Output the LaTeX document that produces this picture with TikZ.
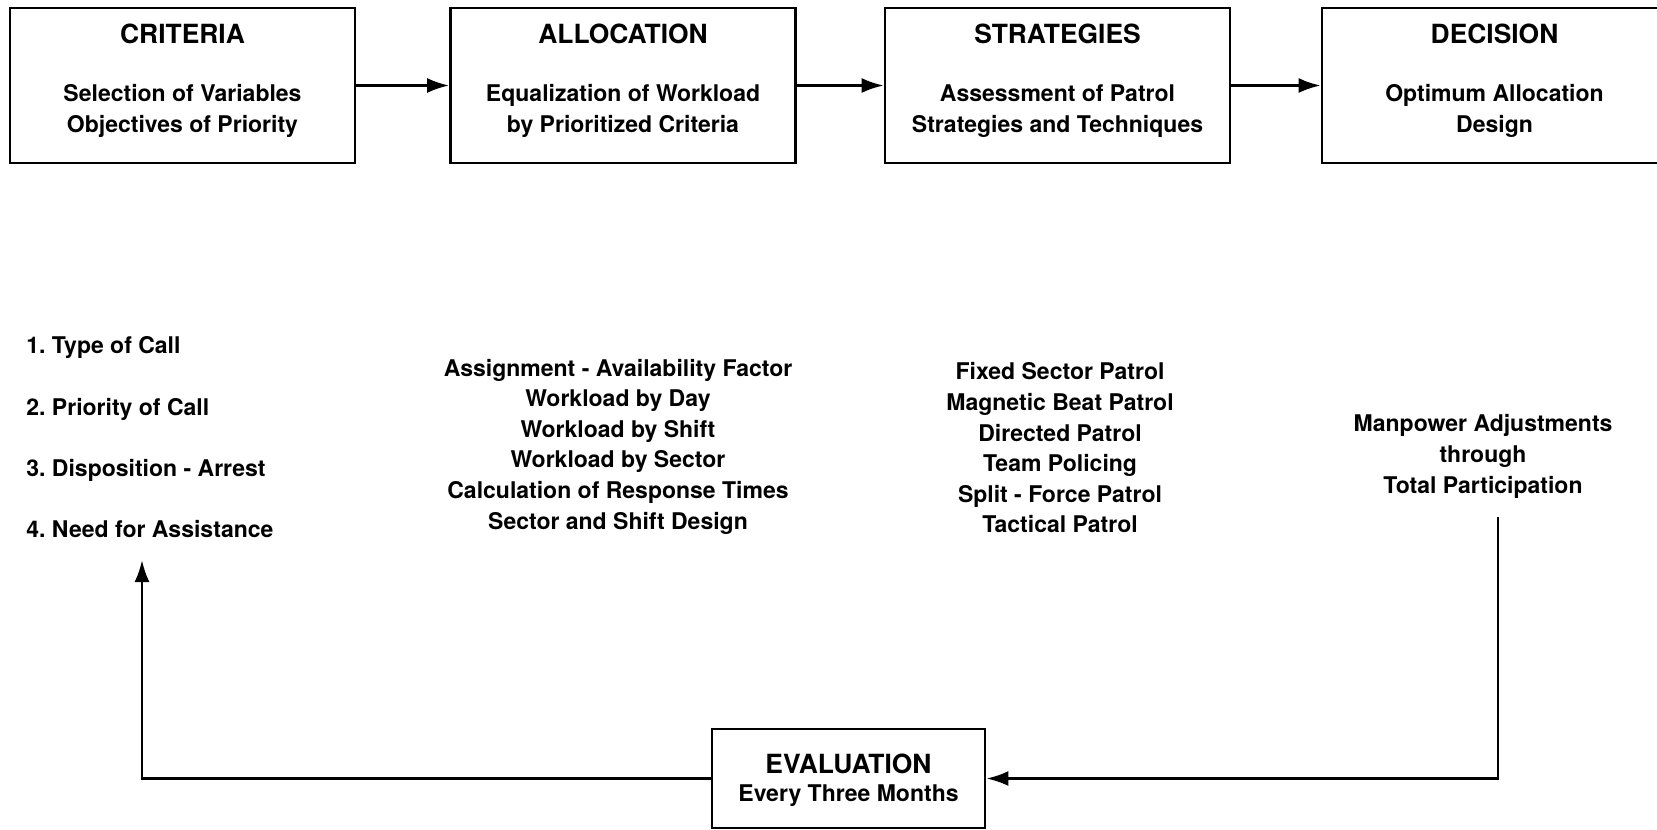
\documentclass[tikz,border=0pt]{standalone}
\usepackage{fontspec}
\setmainfont{TeX Gyre Heros}
\frenchspacing
\usetikzlibrary{arrows.meta,positioning}
\tikzset{
  stagebox/.style={draw,line width=1.4pt,minimum width=172.5pt,minimum height=77.5pt,inner sep=0pt},
  evalbox/.style={draw,line width=1.4pt,minimum width=136.5pt,minimum height=49.5pt,inner sep=0pt},
  flow/.style={line width=1.3pt,-{Latex[length=11pt,width=7.5pt]}},
  txt/.style={font=\bfseries\fontsize{11.5}{15.3}\selectfont,align=center,inner sep=0pt},
  headtxt/.style={font=\bfseries\fontsize{13.2}{15.3}\selectfont,inner sep=0pt},
}
\begin{document}
\begin{tikzpicture}[x=0.5pt,y=-0.5pt]
    \useasboundingbox (0,0) rectangle (1657,829);
    % stages
    \foreach \n/\x/\head/\body in {
        crit/182.5/CRITERIA/{Selection of Variables\\Objectives of Priority},
        alloc/623/ALLOCATION/{Equalization of Workload\\by Prioritized Criteria},
        strat/1057.5/STRATEGIES/{Assessment of Patrol\\Strategies and Techniques},
        dec/1494.5/DECISION/{Optimum Allocation\\Design}} {
        \node[stagebox] (\n) at (\x,85.5) {};
        \node[headtxt] (\n head) at (\x,34) {\head};
        \node[txt] (\n body) at (\x,111) {\body};
    }
    \draw[flow] (crit) -- (alloc);
    \draw[flow] (alloc) -- (strat);
    \draw[flow] (strat) -- (dec);
    % details
    \node[txt,align=left,anchor=west] (calls) at (26,437.5)
        {1. Type of Call\\[15.35pt]2. Priority of Call\\[15.35pt]3. Disposition - Arrest\\[15.35pt]4. Need for Assistance};
    \node[txt] (workload) at (618,446.5)
        {Assignment - Availability Factor\\Workload by Day\\Workload by Shift\\Workload by Sector\\Calculation of Response Times\\Sector and Shift Design};
    \node[txt] (patrols) at (1060,448)
        {Fixed Sector Patrol\\Magnetic Beat Patrol\\Directed Patrol\\Team Policing\\Split - Force Patrol\\Tactical Patrol};
    \node[txt] (manpower) at (1483,456.5)
        {Manpower Adjustments\\through\\Total Participation};
    % feedback
    \node[evalbox] (eval) at (848.5,778.5) {};
    \node[headtxt] (evalhead) at (848.5,764) {EVALUATION};
    \node[txt] (evalbody) at (848.5,796) {Every Three Months};
    \coordinate (fbstart) at (1498,517);
    \coordinate (fbend) at (142,560);
    \draw[flow] (fbstart) |- (eval.east);
    \draw[flow] (eval.west) -| (fbend);
\end{tikzpicture}
\end{document}
